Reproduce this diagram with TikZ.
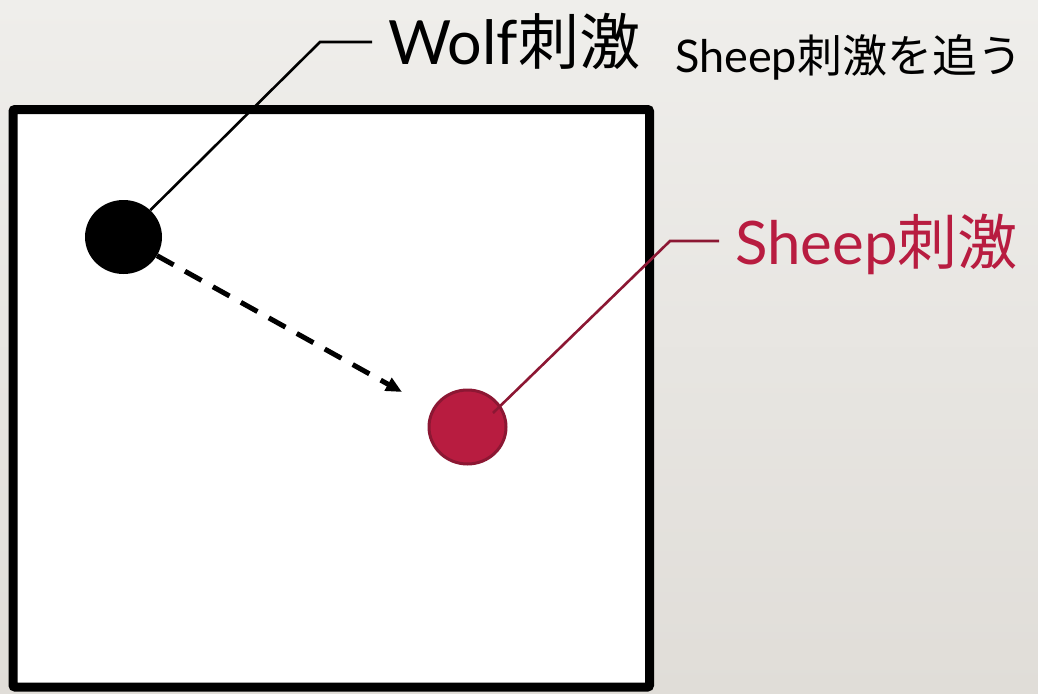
\documentclass[tikz,border=0pt]{standalone}
\usepackage{fontspec}
\setmainfont{Lato}
\newfontfamily\cjk{Noto Sans CJK JP}
\newfontfamily\lat{Lato}
\usetikzlibrary{arrows.meta,shapes.geometric}
\definecolor{bgtop}{HTML}{EFEEEB}
\definecolor{bgbot}{HTML}{E0DDD8}
\definecolor{sheepred}{HTML}{B81C40}
\definecolor{sheepedge}{HTML}{8C1733}
\tikzset{
  stim/.style={ellipse, minimum width=77pt, minimum height=74pt, inner sep=0pt},
  leader/.style={line width=2.6pt},
  lbl/.style={inner sep=0pt, anchor=base west},
}
\begin{document}
\begin{tikzpicture}[x=1pt,y=-1pt]
\useasboundingbox (0,0) rectangle (1038,693);
\shade[top color=bgtop, bottom color=bgbot] (0,0) rectangle (1038,693);
% field
\draw[line width=9pt, fill=white, rounded corners=2pt] (13,109.5) rectangle (649.5,687);
% stimuli
\node[stim, fill=black] (wolf) at (123.5,237) {};
\node[stim, fill=sheepred, draw=sheepedge, line width=3pt] (sheep) at (467.5,427) {};
% labels
\node[lbl, font=\fontsize{61}{61}\selectfont] (wolflab) at (388,65) {{\lat Wolf}{\cjk 刺激}};
\node[lbl, font=\fontsize{45}{45}\selectfont] (chase) at (675,73) {{\lat Sheep}{\cjk 刺激を追う}};
\node[lbl, font=\fontsize{60}{60}\selectfont, text=sheepred] (sheeplab) at (735,264) {{\lat Sheep}{\cjk 刺激}};
% leader lines
\coordinate (wc1) at (320,42);
\coordinate (wc2) at (372,42);
\draw[leader, black] (wolf.45) -- (wc1) -- (wc2);
\coordinate (ss) at (493,413);
\coordinate (sc1) at (670,241);
\coordinate (sc2) at (719,241);
\draw[leader, sheepedge] (ss) -- (sc1) -- (sc2);
% chase arrow
\coordinate (tip) at (402,392);
\draw[line width=5pt, dash pattern=on 19pt off 13pt, -{Triangle[length=16pt,width=14pt]}] (wolf) -- (tip);
\end{tikzpicture}
\end{document}
